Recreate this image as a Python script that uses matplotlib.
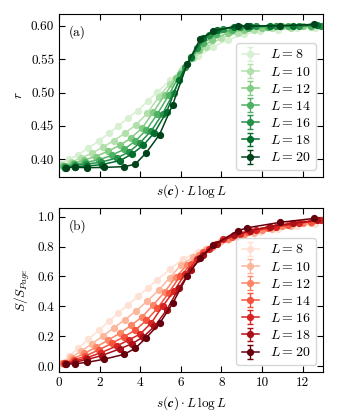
import numpy as np
import matplotlib
matplotlib.use("Agg")
import matplotlib.pyplot as plt

plt.rcParams['font.family'] = 'serif'
plt.rcParams['font.serif'] = ['cmr10', 'DejaVu Serif']
plt.rcParams['mathtext.fontset'] = 'cm'
plt.rcParams['axes.formatter.use_mathtext'] = True
plt.rcParams['axes.unicode_minus'] = False

L_values = [8, 10, 12, 14, 16, 18, 20]

x_data = {
    8: [0.1, 0.5, 0.95, 1.45, 1.95, 2.45, 2.92, 3.4, 3.88, 4.36, 4.85, 5.45, 6.12, 6.85, 7.57, 8.3, 9.1, 9.9, 10.8, 11.7, 12.6, 13.3],
    10: [0.15, 0.6, 1.1, 1.6, 2.15, 2.7, 3.25, 3.8, 4.35, 4.9, 5.45, 6.0, 6.6, 7.25, 8.0, 8.8, 9.6, 10.5, 11.4, 12.4, 13.3],
    12: [0.2, 0.7, 1.25, 1.8, 2.4, 3.0, 3.55, 4.1, 4.65, 5.2, 5.75, 6.3, 6.9, 7.55, 8.3, 9.1, 10.0, 11.0, 12.0, 13.1],
    14: [0.25, 0.75, 1.3, 1.95, 2.6, 3.2, 3.75, 4.3, 4.85, 5.4, 5.95, 6.5, 7.1, 7.75, 8.5, 9.3, 10.3, 11.3, 12.4, 13.3],
    16: [0.3, 0.8, 1.35, 2.05, 2.85, 3.45, 4.0, 4.55, 5.1, 5.65, 6.2, 6.8, 7.4, 8.1, 8.9, 9.7, 10.7, 11.8, 12.9],
    18: [0.3, 0.8, 1.4, 2.1, 3.0, 3.6, 4.15, 4.7, 5.3, 5.9, 6.5, 7.1, 7.8, 8.6, 9.4, 10.4, 11.5, 12.7],
    20: [0.33, 0.8, 1.4, 2.2, 3.2, 3.75, 4.3, 4.95, 5.6, 6.3, 6.95, 7.6, 8.8, 9.25, 10.9, 12.55],
}

r_data = {
    8: [0.3936, 0.400, 0.407, 0.417, 0.427, 0.439, 0.450, 0.462, 0.473, 0.487, 0.501, 0.518, 0.536, 0.554, 0.568, 0.579, 0.587, 0.592, 0.594, 0.596, 0.597, 0.598],
    10: [0.3915, 0.396, 0.402, 0.409, 0.418, 0.428, 0.439, 0.452, 0.469, 0.493, 0.513, 0.532, 0.551, 0.568, 0.582, 0.589, 0.593, 0.596, 0.597, 0.598, 0.599],
    12: [0.3905, 0.394, 0.399, 0.404, 0.412, 0.421, 0.432, 0.447, 0.471, 0.496, 0.521, 0.543, 0.564, 0.579, 0.589, 0.594, 0.597, 0.599, 0.599, 0.600],
    14: [0.3895, 0.3925, 0.3955, 0.399, 0.406, 0.415, 0.427, 0.444, 0.468, 0.496, 0.527, 0.552, 0.574, 0.587, 0.594, 0.597, 0.598, 0.599, 0.600, 0.600],
    16: [0.3885, 0.391, 0.393, 0.3955, 0.402, 0.411, 0.425, 0.443, 0.468, 0.500, 0.538, 0.567, 0.586, 0.595, 0.598, 0.599, 0.600, 0.600, 0.600],
    18: [0.3875, 0.389, 0.390, 0.392, 0.398, 0.408, 0.421, 0.440, 0.471, 0.518, 0.553, 0.582, 0.594, 0.598, 0.599, 0.600, 0.600, 0.601],
    20: [0.3875, 0.388, 0.3875, 0.3878, 0.389, 0.3925, 0.410, 0.437, 0.482, 0.542, 0.580, 0.592, 0.600, 0.5995, 0.600, 0.602],
}

s_data = {
    8: [0.021, 0.067, 0.119, 0.179, 0.239, 0.299, 0.355, 0.411, 0.466, 0.521, 0.578, 0.647, 0.718, 0.765, 0.806, 0.842, 0.873, 0.897, 0.920, 0.939, 0.954, 0.965],
    10: [0.022, 0.058, 0.100, 0.147, 0.200, 0.255, 0.311, 0.369, 0.435, 0.507, 0.590, 0.675, 0.729, 0.783, 0.835, 0.867, 0.893, 0.918, 0.938, 0.956, 0.968],
    12: [0.021, 0.049, 0.084, 0.125, 0.172, 0.220, 0.272, 0.330, 0.410, 0.496, 0.595, 0.675, 0.744, 0.800, 0.849, 0.883, 0.910, 0.935, 0.955, 0.971],
    14: [0.020, 0.040, 0.068, 0.107, 0.152, 0.196, 0.240, 0.305, 0.387, 0.490, 0.600, 0.680, 0.760, 0.820, 0.864, 0.894, 0.922, 0.946, 0.966, 0.978],
    16: [0.018, 0.034, 0.055, 0.088, 0.135, 0.175, 0.215, 0.290, 0.400, 0.500, 0.615, 0.715, 0.785, 0.852, 0.885, 0.911, 0.933, 0.956, 0.977],
    18: [0.015, 0.026, 0.044, 0.070, 0.115, 0.150, 0.195, 0.265, 0.375, 0.520, 0.645, 0.740, 0.820, 0.875, 0.905, 0.934, 0.955, 0.977],
    20: [0.012, 0.015, 0.025, 0.045, 0.078, 0.118, 0.190, 0.285, 0.420, 0.600, 0.725, 0.810, 0.905, 0.925, 0.962, 0.988],
}

r_err = 0.0015
s_err = 0.006

x_ticks = [0, 2, 4, 6, 8, 10, 12]
r_ticks = [0.40, 0.45, 0.50, 0.55, 0.60]
s_ticks = [0.0, 0.2, 0.4, 0.6, 0.8, 1.0]

fig = plt.figure(figsize=(3.38, 4.20), dpi=100)
ax1 = fig.add_axes([0.1746, 0.5786, 0.781, 0.388])
ax2 = fig.add_axes([0.1746, 0.1143, 0.781, 0.3905])

greens = plt.cm.Greens(np.linspace(0.18, 1.0, len(L_values)))
reds = plt.cm.Reds(np.linspace(0.12, 1.0, len(L_values)))

for i, L in enumerate(L_values):
    ax1.errorbar(x_data[L], r_data[L], yerr=r_err, color=greens[i], marker='o',
                 ms=4.2, lw=1.1, capsize=2, elinewidth=1.0, label=f'$L={L}$')
    ax2.errorbar(x_data[L], s_data[L], yerr=s_err, color=reds[i], marker='o',
                 ms=4.2, lw=1.1, capsize=2, elinewidth=1.0, label=f'$L={L}$')

fs = 9.5
for ax in (ax1, ax2):
    ax.set_xlim(0, 13)
    ax.set_xticks(x_ticks)
    ax.tick_params(direction='in', top=True, right=True, length=4, width=0.8, labelsize=fs)
    ax.set_xlabel(r'$s(\boldsymbol{c})\cdot L\,\log L$', fontsize=fs)
    for sp in ax.spines.values():
        sp.set_linewidth(0.8)
    leg = ax.legend(loc='lower right', fontsize=fs + 0.5, handlelength=1.2,
                    labelspacing=0.3, borderpad=0.4, handletextpad=0.8,
                    framealpha=0.8, edgecolor='#cccccc')

ax1.set_ylim(0.3735, 0.6175)
ax1.set_yticks(r_ticks)
ax1.set_yticklabels([f'{v:.2f}' for v in r_ticks])
ax1.tick_params(labelbottom=False)
ax1.set_ylabel(r'$r$', fontsize=fs)
ax1.text(0.035, 0.93, '(a)', transform=ax1.transAxes, fontsize=fs, va='top')

ax2.set_ylim(-0.04, 1.058)
ax2.set_yticks(s_ticks)
ax2.set_yticklabels([f'{v:.1f}' for v in s_ticks])
ax2.set_xticklabels([str(v) for v in x_ticks])
ax2.set_ylabel(r'$S/S_{Page}$', fontsize=fs)
ax2.text(0.035, 0.93, '(b)', transform=ax2.transAxes, fontsize=fs, va='top')

fig.savefig('out.png', dpi=100)
